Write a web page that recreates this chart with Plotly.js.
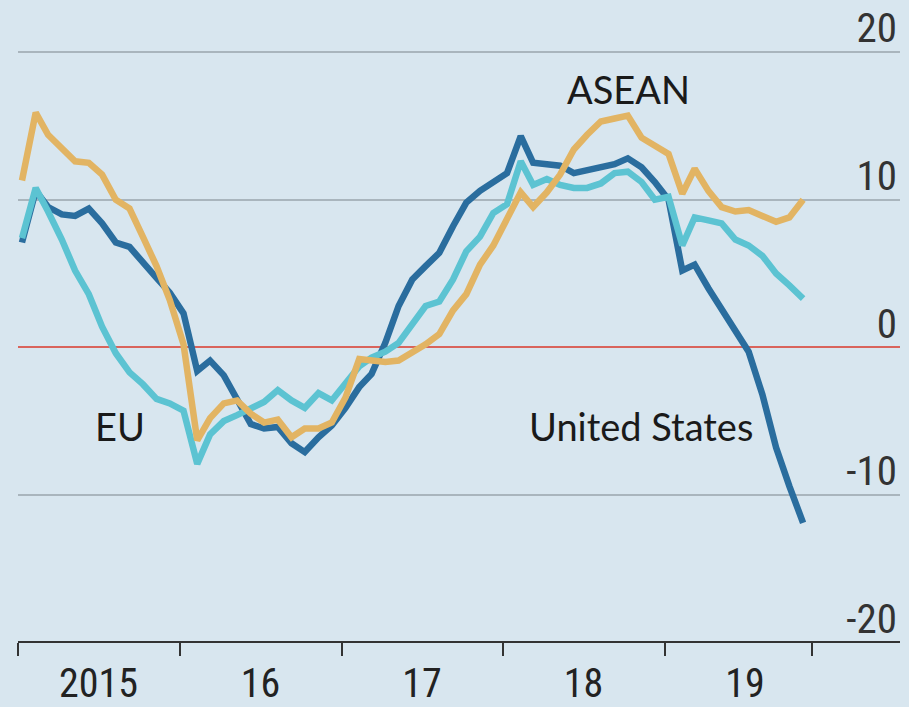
<!DOCTYPE html>
<html>
<head>
<meta charset="utf-8">
<script src="https://cdn.plot.ly/plotly-3.0.1.min.js"></script>
<style>
  html, body { margin: 0; padding: 0; background: #d8e6ef; }
  #chart { width: 909px; height: 707px; }
</style>
</head>
<body>
<div id="chart"></div>
<script>
// Monthly data, Jan 2015 - Nov 2019 (% change)
const months = [
  '2015-01-10','2015-02-10','2015-03-10','2015-04-10','2015-05-10','2015-06-10','2015-07-10','2015-08-10','2015-09-10','2015-10-10','2015-11-10','2015-12-10',
  '2016-01-10','2016-02-10','2016-03-10','2016-04-10','2016-05-10','2016-06-10','2016-07-10','2016-08-10','2016-09-10','2016-10-10','2016-11-10','2016-12-10',
  '2017-01-10','2017-02-10','2017-03-10','2017-04-10','2017-05-10','2017-06-10','2017-07-10','2017-08-10','2017-09-10','2017-10-10','2017-11-10','2017-12-10',
  '2018-01-10','2018-02-10','2018-03-10','2018-04-10','2018-05-10','2018-06-10','2018-07-10','2018-08-10','2018-09-10','2018-10-10','2018-11-10','2018-12-10',
  '2019-01-10','2019-02-10','2019-03-10','2019-04-10','2019-05-10','2019-06-10','2019-07-10','2019-08-10','2019-09-10','2019-10-10','2019-11-10'
];

const unitedStates = [
  7.1, 10.6, 9.5, 9.0, 8.9, 9.4, 8.4, 7.1, 6.8, 5.7, 4.7, 3.7,
  2.3, -1.6, -0.9, -1.9, -3.5, -5.2, -5.5, -5.4, -6.5, -7.1, -6.1, -5.3,
  -4.1, -2.7, -1.8, 0.3, 2.8, 4.6, 5.5, 6.4, 8.2, 9.8, 10.6, 11.2,
  11.8, 14.3, 12.5, 12.4, 12.3, 11.8, 12.0, 12.3, 12.4, 12.8, 12.2, 11.2,
  10.0, 5.2, 5.6, 4.0, 2.6, 1.3, -0.3, -3.2, -6.8, -9.4, -11.9
];

const eu = [
  7.4, 10.8, 9.2, 7.3, 5.2, 3.6, 1.4, -0.4, -1.7, -2.5, -3.5, -3.8,
  -4.3, -7.9, -5.9, -5.0, -4.6, -4.2, -3.7, -2.9, -3.6, -4.1, -3.1, -3.6,
  -2.5, -1.3, -0.7, -0.3, 0.3, 1.5, 2.8, 3.1, 4.6, 6.5, 7.5, 9.1,
  9.7, 12.6, 11.0, 11.4, 11.0, 10.8, 10.8, 11.1, 11.8, 11.9, 11.2, 10.0,
  10.2, 6.9, 8.8, 8.6, 8.4, 7.3, 6.9, 6.2, 5.0, 4.2, 3.3
];

const asean = [
  11.3, 15.9, 14.4, 13.5, 12.6, 12.5, 11.7, 10.0, 9.4, 7.5, 5.5, 3.2,
  0.2, -6.3, -4.8, -3.8, -3.6, -4.5, -5.1, -4.9, -6.1, -5.5, -5.5, -5.1,
  -3.4, -0.8, -0.9, -1.0, -0.9, -0.4, 0.2, 0.9, 2.5, 3.6, 5.6, 6.9,
  8.6, 10.5, 9.5, 10.5, 11.7, 13.4, 14.4, 15.3, 15.5, 15.7, 14.2, 13.7,
  13.1, 10.4, 12.1, 10.6, 9.5, 9.2, 9.3, 8.9, 8.5, 8.8, 10.0
];

const yTicks = [-20, -10, 0, 10, 20];
const yTickText = ['-20', '-10', '0', '10', '20'];
const xTickMarks = ['2015-01-01','2016-01-01','2017-01-01','2018-01-01','2019-01-01','2019-12-01'];
const xLabelPos = ['2015-07-02','2016-07-02','2017-07-02','2018-07-02','2019-07-02'];
const xLabels = ['2015', '16', '17', '18', '19'];

const colUS = '#2a6d9e', colEU = '#5cc3d2', colASEAN = '#e2b463';
const condensed = '"Liberation Sans Narrow", "Roboto Condensed", "DejaVu Sans Condensed", sans-serif';
const labelFont = 'Lato, "Liberation Sans", sans-serif';

// y range extends a little below -20 so the "-20" label fits; the x axis sits at -20
const yMin = -22, yMax = 23.53, xAxisAt = -20;
const marginB = 35;
const xAxisPos = (xAxisAt - yMin) / (yMax - yMin); // fraction of the plotting area

const traces = [
  { x: months, y: unitedStates, type: 'scatter', mode: 'lines', name: 'United States',
    line: { color: colUS, width: 6.5 }, hoverinfo: 'skip' },
  { x: months, y: eu, type: 'scatter', mode: 'lines', name: 'EU',
    line: { color: colEU, width: 6.5 }, hoverinfo: 'skip' },
  { x: months, y: asean, type: 'scatter', mode: 'lines', name: 'ASEAN',
    line: { color: colASEAN, width: 6.5 }, hoverinfo: 'skip' },
  { x: [], y: [], xaxis: 'x2', type: 'scatter', mode: 'lines', showlegend: false, hoverinfo: 'skip' }
];

const layout = {
  width: 909, height: 707,
  margin: { l: 18, r: 9, t: 0, b: marginB },
  paper_bgcolor: '#d8e6ef', plot_bgcolor: '#d8e6ef',
  showlegend: false,
  xaxis: {
    type: 'date', range: ['2015-01-01', '2020-06-16'],
    anchor: 'free', position: xAxisPos,
    tickmode: 'array', tickvals: xTickMarks, showticklabels: false,
    ticks: 'outside', ticklen: 13, tickwidth: 2, tickcolor: '#333',
    showline: true, linecolor: '#333', linewidth: 2,
    showgrid: false, zeroline: false, fixedrange: true
  },
  xaxis2: {
    type: 'date', range: ['2015-01-01', '2020-06-16'],
    overlaying: 'x', anchor: 'free', position: xAxisPos, side: 'bottom',
    tickmode: 'array', tickvals: xLabelPos, ticktext: xLabels,
    ticks: 'outside', ticklen: 6, tickcolor: 'rgba(0,0,0,0)',
    tickfont: { family: condensed, size: 40, color: '#222' },
    showline: false, showgrid: false, zeroline: false
  },
  yaxis: {
    range: [yMin, yMax], side: 'right',
    tickmode: 'array', tickvals: yTicks, ticktext: yTickText,
    ticklabelposition: 'inside', ticklabelshift: -24,
    ticks: '', tickfont: { family: condensed, size: 41, color: '#333' },
    showgrid: true, gridcolor: '#a9b5bd', gridwidth: 2,
    zeroline: true, zerolinecolor: '#d9645c', zerolinewidth: 2,
    showline: false, fixedrange: true
  },
  annotations: [
    { x: '2018-10-12', y: 17.5, xref: 'x', yref: 'y', text: 'ASEAN', showarrow: false,
      font: { family: labelFont, size: 38, color: '#1a1a1a' }, xanchor: 'center', yanchor: 'middle' },
    { x: '2015-08-19', y: -5.3, xref: 'x', yref: 'y', text: 'EU', showarrow: false,
      font: { family: labelFont, size: 38, color: '#1a1a1a' }, xanchor: 'center', yanchor: 'middle' },
    { x: '2018-11-08', y: -5.3, xref: 'x', yref: 'y', text: 'United States', showarrow: false,
      font: { family: labelFont, size: 38, color: '#1a1a1a' }, xanchor: 'center', yanchor: 'middle' }
  ]
};

Plotly.newPlot('chart', traces, layout, { displayModeBar: false, staticPlot: true });
</script>
</body>
</html>
